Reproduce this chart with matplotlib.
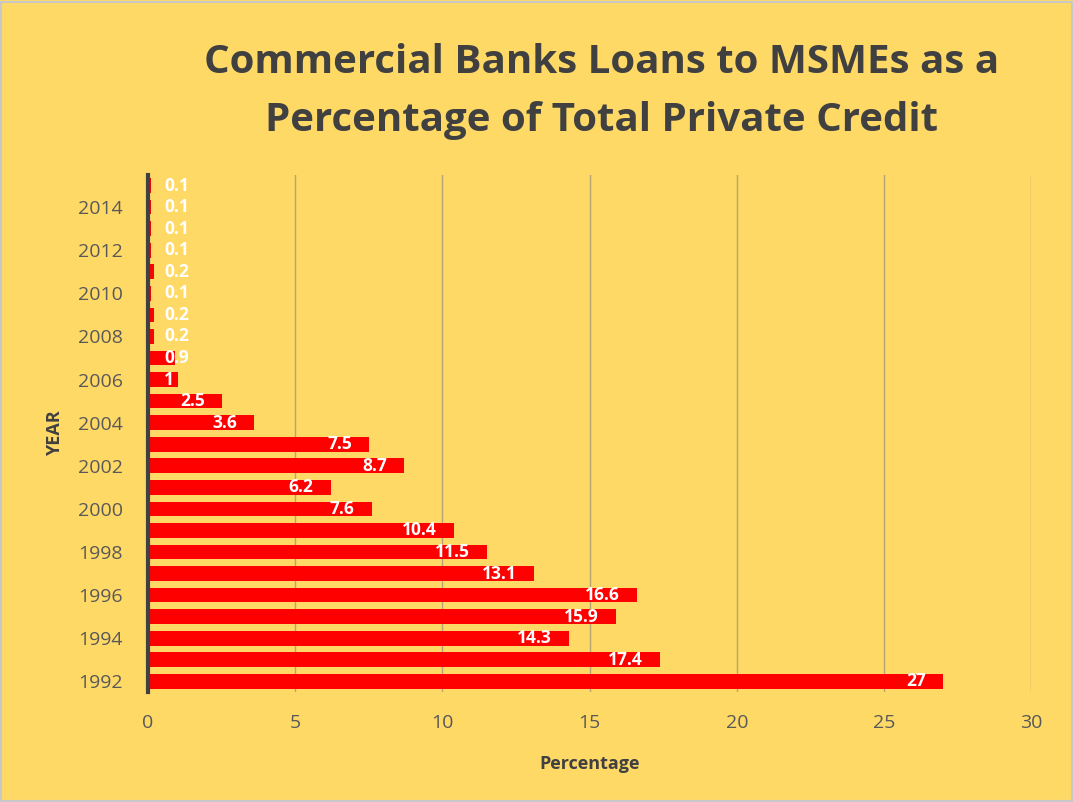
import numpy as np
import matplotlib.pyplot as plt
from matplotlib.patches import Rectangle

years = list(range(1992, 2016))
values = [27, 17.4, 14.3, 15.9, 16.6, 13.1, 11.5, 10.4, 7.6, 6.2, 8.7, 7.5,
          3.6, 2.5, 1, 0.9, 0.2, 0.2, 0.1, 0.2, 0.1, 0.1, 0.1, 0.1]
tick_years = list(range(1992, 2016, 2))

plt.rcParams['font.family'] = ['Open Sans', 'DejaVu Sans']
bg = '#fed966'

fig = plt.figure(figsize=(10.73, 8.02), dpi=100, facecolor=bg)
fig.patches.append(Rectangle((0.001, 0.001), 0.998, 0.997, transform=fig.transFigure,
                             fill=False, edgecolor='#c8c8c8', linewidth=1.5))
ax = fig.add_axes([0.138, 0.137, 0.823, 0.645], facecolor=bg)

pos = np.arange(len(years))
ax.barh(pos, values, height=0.68, color='#ff0000', zorder=3)

for p, v in zip(pos, values):
    if v < 1.5:
        ax.text(0.55, p, f'{v:g}', ha='left', va='center', color='white',
                fontsize=12.5, fontweight='bold', zorder=4)
    else:
        ax.text(v - 0.58, p, f'{v:g}', ha='right', va='center', color='white',
                fontsize=12.5, fontweight='bold', zorder=4)

ax.set_xlim(0, 30)
ax.set_ylim(-0.5, len(years) - 0.5)
ax.set_xticks(range(0, 31, 5))
ax.set_yticks([years.index(y) for y in tick_years])
ax.set_yticklabels([str(y) for y in tick_years])
ax.tick_params(axis='both', length=0, labelsize=14, labelcolor='#595959')
ax.tick_params(axis='x', pad=16)
ax.tick_params(axis='y', pad=18)
ax.grid(axis='x', color='#b3a574', linewidth=1, zorder=0)

for s in ['top', 'right', 'bottom']:
    ax.spines[s].set_visible(False)
ax.spines['left'].set_color('#404040')
ax.spines['left'].set_linewidth(3)
ax.spines['left'].set_zorder(5)

ax.set_xlabel('Percentage', fontsize=13, fontweight='bold', color='#404040', labelpad=16)
ax.set_ylabel('YEAR', fontsize=13, fontweight='bold', color='#404040', labelpad=10)

fig.text(0.561, 0.886, 'Commercial Banks Loans to MSMEs as a\nPercentage of Total Private Credit',
         ha='center', va='center', fontsize=29, fontweight='bold', color='#404040',
         linespacing=1.62)

fig.savefig('out.png', dpi=100, facecolor=bg)
